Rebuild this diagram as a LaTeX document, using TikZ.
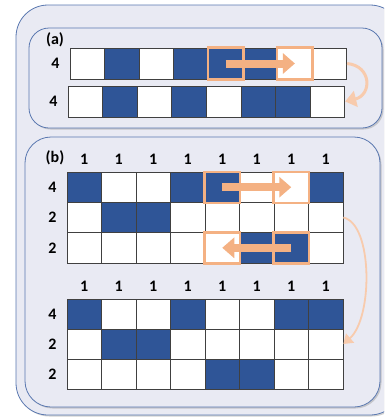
\documentclass[tikz,border=0pt]{standalone}
\usepackage{fontspec}
\setmainfont{Carlito}
\usetikzlibrary{arrows.meta,positioning,shadows}
\definecolor{qblue}{HTML}{2F5597}
\definecolor{qorange}{HTML}{F4B183}
\definecolor{qpeach}{HTML}{F8CBAD}
\definecolor{panelbg}{HTML}{E9EAF3}
\definecolor{panelln}{HTML}{5A78B0}
\colorlet{W}{white}
\colorlet{B}{qblue}

\begin{document}
\begin{tikzpicture}[x=1pt,y=-1pt,
  cell/.style={draw=black!75,line width=0.7pt,minimum width=34.6pt,
               minimum height=31pt,inner sep=0pt},
  cellb/.style={cell,minimum width=34.5pt,minimum height=30.3pt},
  lab/.style={font=\bfseries\fontsize{16}{16}\selectfont,inner sep=1pt},
  panel/.style={draw=panelln,fill=panelbg,line width=0.8pt,
                drop shadow={shadow xshift=1.5pt,shadow yshift=-1.5pt,opacity=0.35}},
  hl/.style={draw=qorange,line width=2.4pt},
  mv/.style={-{Triangle[width=20pt,length=12pt]},line width=8pt,qorange},
  swap/.style={-{Triangle[width=16pt,length=11pt]},line width=3pt,qpeach},
  swapthin/.style={-{Triangle[width=12pt,length=9pt]},line width=1.8pt,qpeach}]

\useasboundingbox (0,0) rectangle (384,418);
\clip (0,0) rectangle (384,418);
\fill[white] (0,0) rectangle (384,418);

% panels
\draw[panel,rounded corners=32pt] (16,5) rectangle (402,415);
\draw[panel,rounded corners=20pt] (29,28) rectangle (382,128);
\draw[panel,rounded corners=26pt] (25,137) rectangle (380,407);

% (a) one row, move then wrap
\node[lab] (la) at (55,40) {(a)};
\foreach \x/\y/\row [count=\j] in {70/63.5/{W,B,W,B,B,B,W,W},68/101.5/{W,B,W,B,W,B,B,W}}
  \foreach \c [count=\i] in \row
    \node[cell,fill=\c] (a\j-\i) at ({\x+34.6*(\i-0.5)},\y) {};
\node[lab,left=9pt of a1-1] {4};
\node[lab,left=9pt of a2-1] {4};
\draw[hl] (a1-5.north west) rectangle (a1-5.south east);
\draw[hl] (a1-7.north west) rectangle (a1-7.south east);
\draw[mv] (a1-5.center) -- (a1-7.center);
\draw[swap] (a1-8.east) .. controls (372,66) and (372,95) .. (a2-8.east);

% (b) three rows, before
\node[lab] (lb) at (55,158) {(b)};
\foreach \y/\row [count=\j] in {187.2/{B,W,W,B,B,W,W,B},217.5/{W,B,B,W,W,W,W,W},247.8/{W,W,W,W,W,B,B,W}}
  \foreach \c [count=\i] in \row
    \node[cellb,fill=\c] (top\j-\i) at ({67+34.5*(\i-0.5)},\y) {};
\foreach \i in {1,...,8}
  \node[lab,above=6pt of top1-\i] {1};
\node[lab,left=9pt of top1-1] {4};
\node[lab,left=9pt of top2-1] {2};
\node[lab,left=9pt of top3-1] {2};
\draw[hl] (top1-5.north west) rectangle (top1-5.south east);
\draw[hl] (top1-7.north west) rectangle (top1-7.south east);
\draw[hl] (top3-5.north west) rectangle (top3-5.south east);
\draw[hl] (top3-7.north west) rectangle (top3-7.south east);
\draw[mv] (top1-5.center) -- (top1-7.center);
\draw[mv] (top3-7.center) -- (top3-5.center);

% (b) after
\foreach \y/\row [count=\j] in {314/{B,W,W,B,W,W,B,B},344/{W,B,B,W,W,W,W,W},374/{W,W,W,W,B,B,W,W}}
  \foreach \c [count=\i] in \row
    \node[cellb,minimum height=30pt,fill=\c] (bot\j-\i) at ({67+34.5*(\i-0.5)},\y) {};
\foreach \i in {1,...,8}
  \node[lab,above=6pt of bot1-\i] {1};
\node[lab,left=9pt of bot1-1] {4};
\node[lab,left=9pt of bot2-1] {2};
\node[lab,left=9pt of bot3-1] {2};
\draw[swapthin] (top2-8.east) .. controls (373,224) and (373,318) .. (bot2-8.east);
\end{tikzpicture}
\end{document}
